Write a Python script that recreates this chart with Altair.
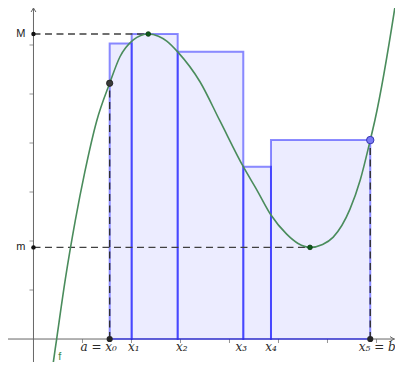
import altair as alt
import pandas as pd

# ---- data (units: 1 tick = 1) ----
curve_x = [0.32, 0.371, 0.473, 0.65, 0.85, 1.05, 1.29, 1.555, 1.765, 2.037, 2.19, 2.343,
           2.55, 2.72, 2.943, 3.398, 3.806, 4.282, 4.56, 4.847, 5.167, 5.40, 5.643, 5.90,
           6.118, 6.459, 6.67, 6.873, 6.969, 7.378, 7.45]
curve_y = [-1.10, -0.714, 0.0, 1.22, 2.40, 3.42, 4.45, 5.22, 5.76, 6.105, 6.195, 6.224,
           6.18, 6.08, 5.86, 5.25, 4.45, 3.516, 3.04, 2.53, 2.14, 1.95, 1.87, 1.93,
           2.08, 2.65, 3.25, 4.06, 4.47, 6.78, 7.25]

part_x = [1.555, 2.004, 2.943, 4.282, 4.847, 6.873]          # x0 .. x5
rect_top = [6.03, 6.224, 5.86, 3.516, 4.06]                   # sup of f on each piece
part_labels = ["a = x\u2080", "x\u2081", "x\u2082", "x\u2083", "x\u2084", "x\u2085 = b"]
label_dx = [-11, 2, 4, -2, 0, 7]

M_val, m_val = 6.224, 1.87
max_x, min_x = 2.343, 5.643
fa, fb = 5.22, 4.06

x_ticks = [1, 2, 3, 4, 5, 6, 7]
y_ticks = [1, 2, 3, 4, 5, 6]

W, H = 387, 354
X_MIN, X_MAX = -0.52, 7.378
Y_MIN, Y_MAX = -0.469, 6.755
xs = alt.Scale(domain=[X_MIN, X_MAX], nice=False, zero=False)
ys = alt.Scale(domain=[Y_MIN, Y_MAX], nice=False, zero=False)


def X(f, **kw):
    return alt.X(f, type="quantitative", scale=xs, axis=None, **kw)


def Y(f, **kw):
    return alt.Y(f, type="quantitative", scale=ys, axis=None, **kw)


AX = "#666666"

x_axis = alt.Chart(pd.DataFrame({"y": [0]})).mark_rule(color=AX, strokeWidth=1).encode(y=Y("y"))
y_axis = alt.Chart(pd.DataFrame({"x": [0]})).mark_rule(color=AX, strokeWidth=1).encode(x=X("x"))

xt = alt.Chart(pd.DataFrame({"x": x_ticks, "y": [0] * len(x_ticks)})).mark_tick(
    orient="vertical", size=4, thickness=1, color=AX, yOffset=2
).encode(x=X("x"), y=Y("y"))
yt = alt.Chart(pd.DataFrame({"y": y_ticks, "x": [0] * len(y_ticks)})).mark_tick(
    orient="horizontal", size=4, thickness=1, color=AX, xOffset=-2
).encode(x=X("x"), y=Y("y"))

arrow_y = alt.Chart(pd.DataFrame({"x": [0], "y": [Y_MAX]})).mark_point(
    shape="M-0.6,1L0,0L0.6,1", size=64, filled=False, color=AX, strokeWidth=1, opacity=1
).encode(x=X("x"), y=Y("y"))
arrow_x = alt.Chart(pd.DataFrame({"x": [X_MAX], "y": [0]})).mark_point(
    shape="M-1,-0.6L0,0L-1,0.6", size=64, filled=False, color=AX, strokeWidth=1, opacity=1, xOffset=-1
).encode(x=X("x"), y=Y("y"))

rects = pd.DataFrame({"x": part_x[:-1], "x2": part_x[1:], "top": rect_top, "bot": [0] * 5})
rect_layer = alt.Chart(rects).mark_rect(
    fill="#0000ff", fillOpacity=0.075, stroke="#0000ff", strokeOpacity=0.45, strokeWidth=2
).encode(x=X("x"), x2="x2", y=Y("top"), y2="bot")

DASH = [7, 4.5]
hdash = pd.DataFrame({"x": [0, 0], "x2": [max_x, min_x], "y": [M_val, m_val]})
hdash_layer = alt.Chart(hdash).mark_rule(color="#404040", strokeWidth=1.4, strokeDash=DASH).encode(
    x=X("x"), x2="x2", y=Y("y"))
vdash = pd.DataFrame({"x": [part_x[0], part_x[-1]], "y": [0, 0], "y2": [fa, fb]})
vdash_layer = alt.Chart(vdash).mark_rule(color="#303030", strokeWidth=1.4, strokeDash=DASH).encode(
    x=X("x"), y=Y("y"), y2="y2")

curve = pd.DataFrame({"x": curve_x, "y": curve_y})
curve_layer = alt.Chart(curve).mark_line(
    color="#4a8c5c", strokeWidth=1.6, interpolate="monotone", clip=True
).encode(x=X("x"), y=Y("y"), order=alt.Order("x:Q"))

ext = pd.DataFrame({"x": [max_x, min_x], "y": [M_val, m_val]})
ext_layer = alt.Chart(ext).mark_point(filled=True, size=22, color="#0f5a1a", opacity=1,
                                      stroke="#0a3a10", strokeWidth=0.8).encode(x=X("x"), y=Y("y"))

mm = pd.DataFrame({"x": [0, 0], "y": [M_val, m_val], "t": ["M", "m"]})
mm_pts = alt.Chart(mm).mark_point(filled=True, size=20, color="#111111", opacity=1).encode(
    x=X("x"), y=Y("y"))
mm_txt = alt.Chart(mm).mark_text(align="right", baseline="middle", dx=-8, fontSize=11,
                                 font="Liberation Sans", color="#222222").encode(
    x=X("x"), y=Y("y"), text="t:N")

ab = pd.DataFrame({"x": [part_x[0], part_x[-1]], "y": [0, 0]})
ab_layer = alt.Chart(ab).mark_point(filled=True, size=38, color="#262626", opacity=1).encode(
    x=X("x"), y=Y("y"))

pa = alt.Chart(pd.DataFrame({"x": [part_x[0]], "y": [fa]})).mark_point(
    filled=True, size=40, color="#3a3a3a", opacity=1, stroke="#1a1a1a", strokeWidth=0.8
).encode(x=X("x"), y=Y("y"))
pb = alt.Chart(pd.DataFrame({"x": [part_x[-1]], "y": [fb]})).mark_point(
    filled=True, size=55, fill="#7b7bf5", opacity=1, stroke="#3535b0", strokeWidth=1
).encode(x=X("x"), y=Y("y"))

label_layers = []
for xv, lab, dx in zip(part_x, part_labels, label_dx):
    label_layers.append(
        alt.Chart(pd.DataFrame({"x": [xv], "y": [0], "t": [lab]})).mark_text(
            align="center", baseline="alphabetic", dy=12, dx=dx, fontSize=12,
            font="DejaVu Serif", fontStyle="italic", color="#2a2a2a"
        ).encode(x=X("x"), y=Y("y"), text="t:N")
    )

f_lab = alt.Chart(pd.DataFrame({"x": [curve_x[2]], "y": [curve_y[2]], "t": ["f"]})).mark_text(
    align="center", baseline="middle", dx=3, dy=18, fontSize=11, font="Liberation Sans",
    color="#3f8a4f"
).encode(x=X("x"), y=Y("y"), text="t:N")

chart = alt.layer(
    x_axis, y_axis, xt, yt, arrow_y, arrow_x,
    rect_layer, hdash_layer, vdash_layer, curve_layer,
    ext_layer, mm_pts, mm_txt, ab_layer, pa, pb, *label_layers, f_lab
).properties(
    width=W, height=H, padding=0, autosize=alt.AutoSizeParams(type="none")
).configure_view(stroke=None)

chart.save("out.html", embed_options={"renderer": "svg", "actions": False})
